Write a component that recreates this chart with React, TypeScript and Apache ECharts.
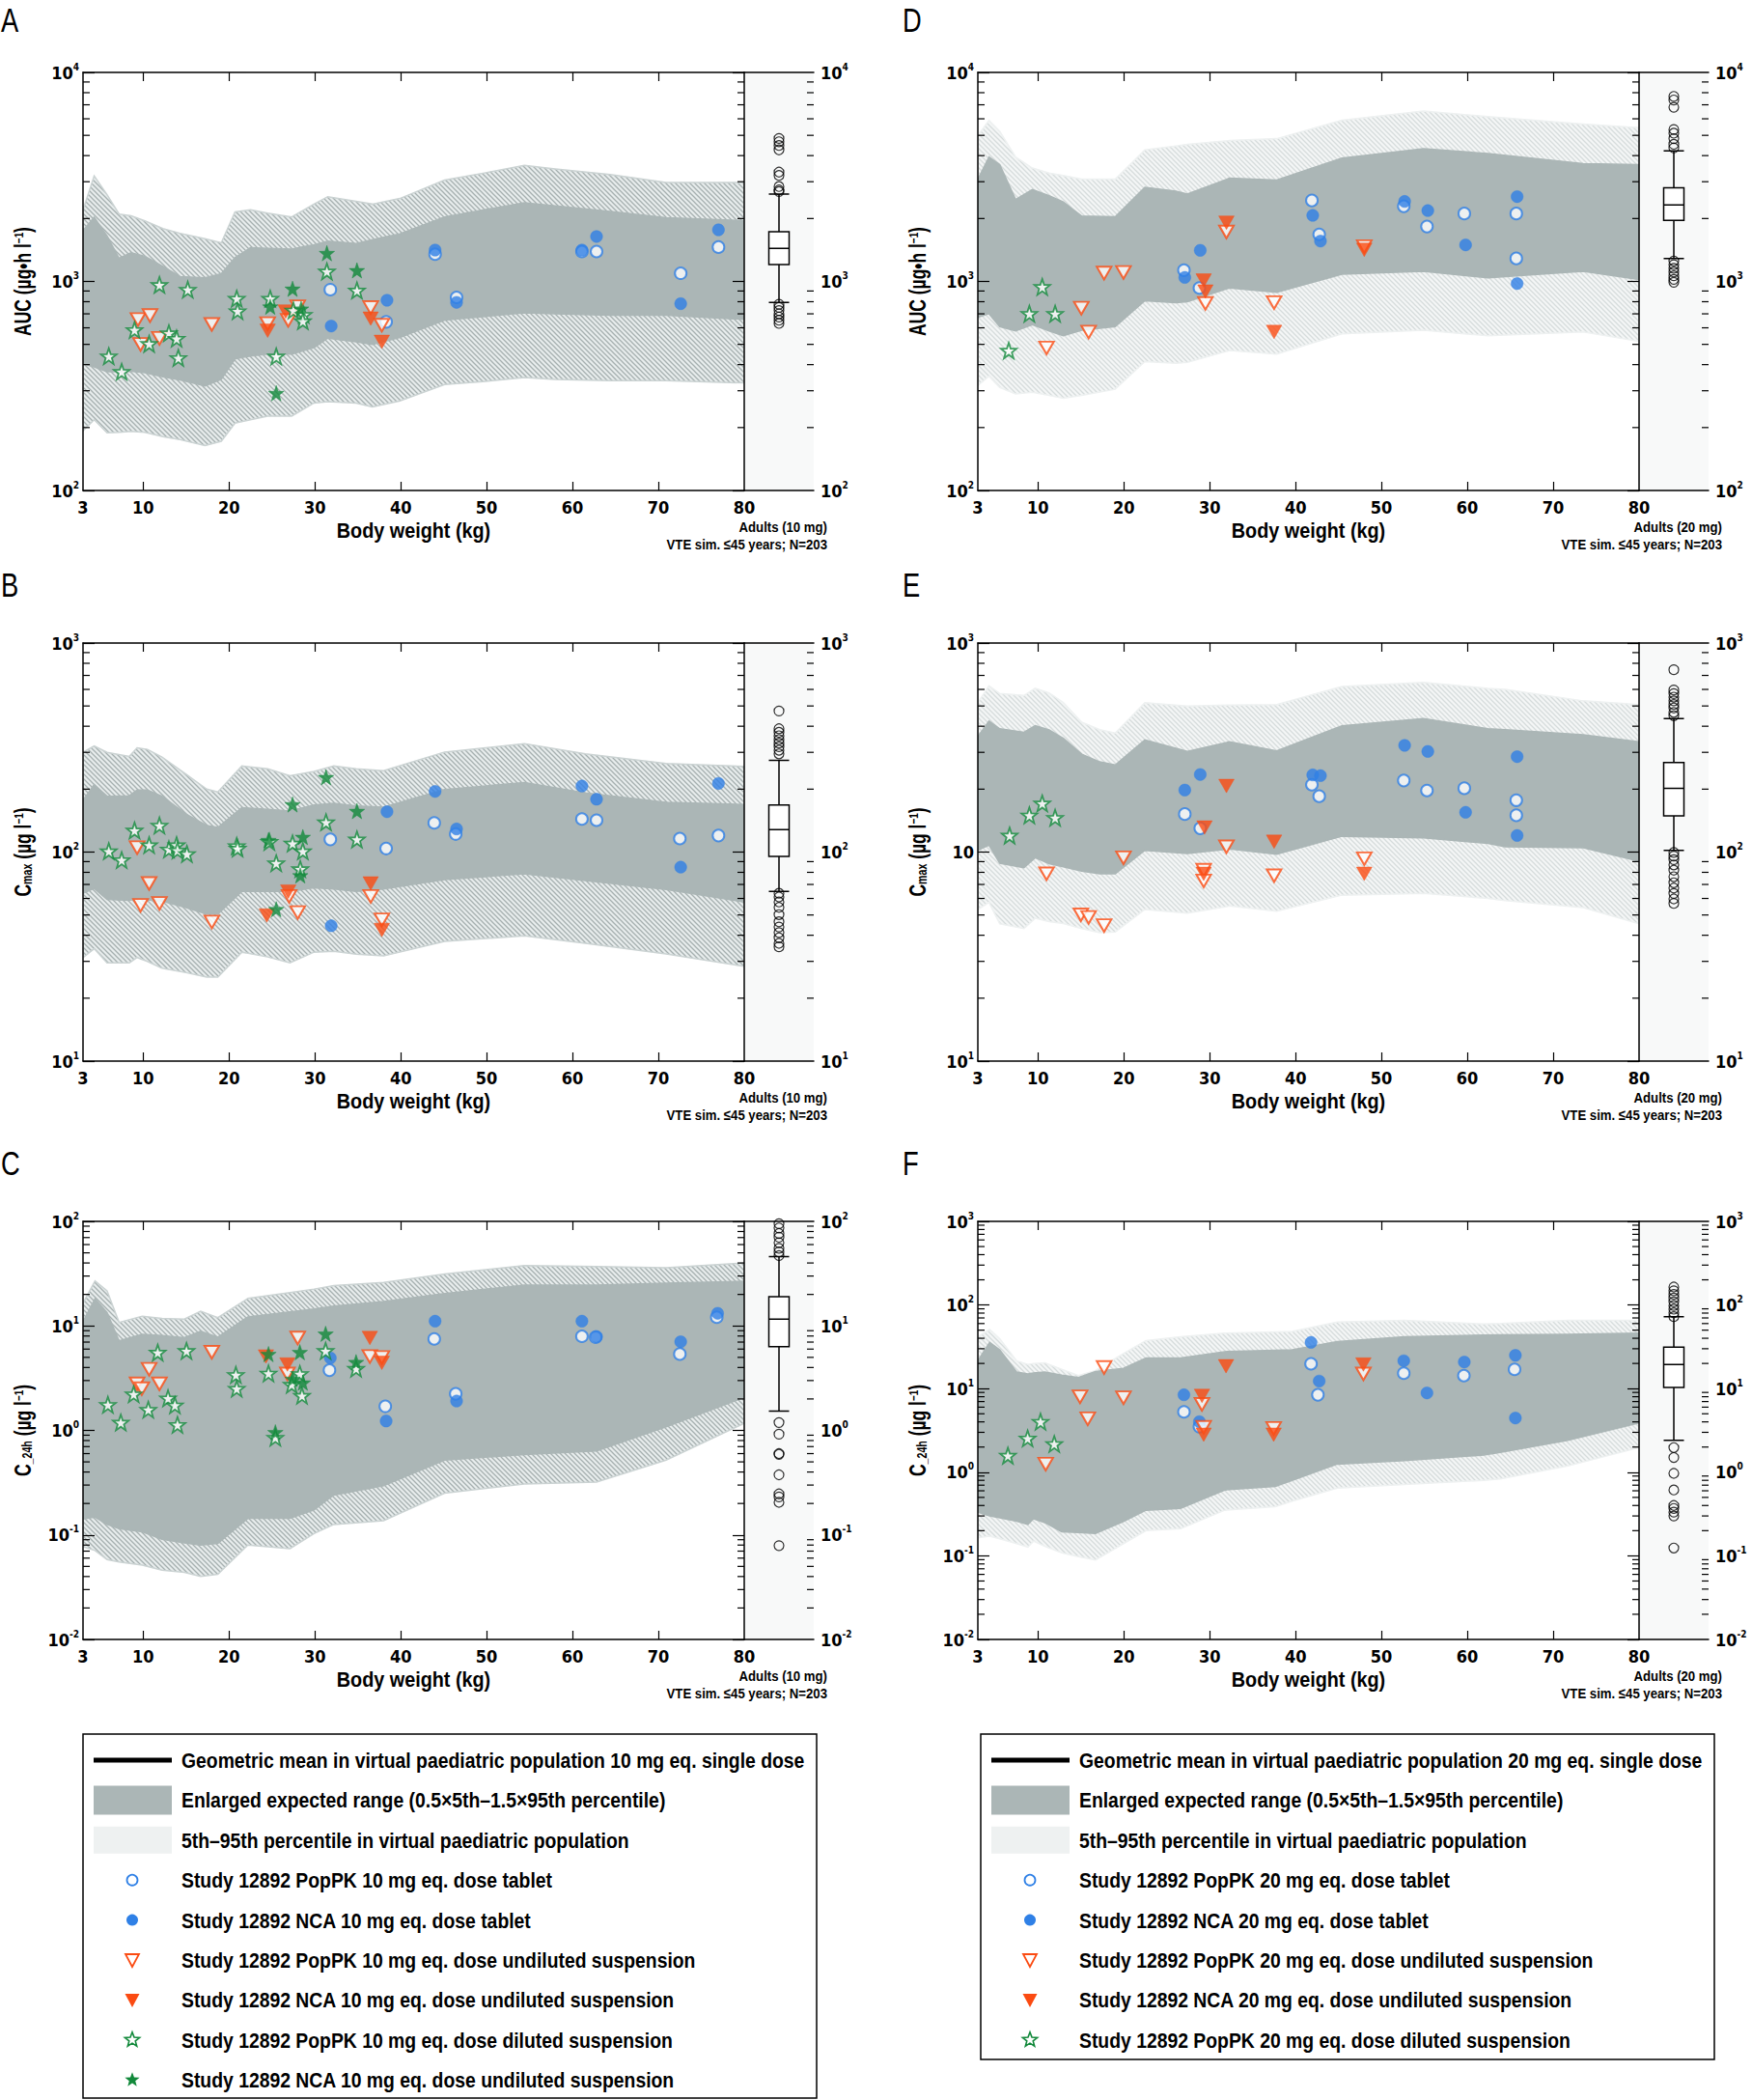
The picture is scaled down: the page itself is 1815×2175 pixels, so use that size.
import React, { useEffect, useRef } from 'react';
import * as echarts from 'echarts';

// ---------- axis tick/label lists ----------
const X_LABELS = [3, 10, 20, 30, 40, 50, 60, 70, 80];
const X_TICKS = [10, 20, 30, 40, 50, 60, 70];
const BOX_CATEGORY = ['Adults'];

// ---------- bands: [body weight, outer low, inner low, inner high, outer high] ----------
const BAND_A = [
  [3, 193, 404, 1750, 2200], [4.3, 218, 390, 2030, 3200], [5.8, 189, 370, 1650, 2600], [7.2, 190, 370, 1290, 2100],
  [8.6, 192, 372, 1370, 2060], [10.2, 190, 366, 1320, 1950], [12.3, 181, 350, 1180, 1790], [14.3, 175, 338, 1055, 1700],
  [17.2, 164, 316, 1040, 1600], [19.1, 172, 340, 1090, 1531], [20.7, 210, 426, 1300, 2150], [22.5, 218, 440, 1449, 2200],
  [24.5, 227, 449, 1440, 2120], [27.3, 227, 449, 1429, 2036], [29.9, 262, 482, 1500, 2345], [31.5, 266, 536, 1560, 2545],
  [34.8, 262, 515, 1520, 2416], [36.7, 251, 500, 1585, 2345], [39.9, 268, 540, 1690, 2494], [45.1, 321, 653, 2036, 3055],
  [49.9, 333, 680, 2208, 3313], [54.4, 347, 708, 2377, 3597], [58.0, 340, 700, 2300, 3452], [64.4, 335, 690, 2164, 3245],
  [70.9, 335, 690, 2018, 2971], [80, 327, 658, 1955, 2971],
];
const BAND_B = [
  [3, 31.3, 63.5, 177, 300], [4.3, 34.5, 67, 210, 322], [5.8, 29.5, 59.3, 185, 300], [8.4, 29.5, 58.8, 186, 287],
  [9.3, 31.3, 60, 198, 315], [10.5, 30, 59, 198, 310], [12.2, 27.8, 58.2, 185, 285], [15.0, 26.5, 54.2, 152, 236],
  [17.4, 25.2, 50.5, 134, 200], [18.7, 25.2, 50.5, 131, 194], [21.5, 33.2, 64.9, 163, 258], [24.5, 31.5, 64.9, 160, 250],
  [27.1, 29.5, 64.9, 157, 232], [29.9, 33.2, 67.4, 168, 243], [32.2, 33.5, 66.5, 171, 258], [34.8, 32.5, 64.9, 166, 250],
  [38.0, 31.9, 66.5, 164, 245], [45.1, 37.4, 73.8, 199, 301], [54.4, 39.7, 78.8, 215, 330], [61.5, 36.6, 73, 192, 295],
  [70.9, 32.6, 66.2, 173, 265], [80, 28.4, 57.7, 169, 257],
];
const BAND_C = [
  [3, 0.077, 0.142, 11.0, 16.5], [4.4, 0.071, 0.148, 18.2, 27.0], [5.8, 0.058, 0.126, 13.4, 21.7], [7.2, 0.055, 0.115, 7.2, 10.8],
  [9.9, 0.0515, 0.107, 8.3, 12.4], [12.2, 0.046, 0.091, 8.1, 11.8], [14.8, 0.0438, 0.084, 7.7, 11.6], [16.7, 0.040, 0.080, 8.9, 13.8],
  [18.7, 0.042, 0.083, 7.8, 12.0], [22.2, 0.080, 0.144, 12.2, 18.3], [27.1, 0.074, 0.144, 13.6, 20.8], [29.9, 0.103, 0.174, 14.5, 22.5],
  [32.2, 0.126, 0.241, 15.5, 24.3], [38.0, 0.137, 0.295, 17.1, 26.0], [45.1, 0.251, 0.52, 20.4, 31.3], [54.4, 0.307, 0.588, 24.6, 37.8],
  [62.8, 0.32, 0.637, 24.6, 36.9], [70.9, 0.52, 1.08, 25.6, 36.0], [80, 1.17, 2.07, 26.7, 40.0],
];
const BAND_D = [
  [3, 318, 673, 3085, 5000], [4.3, 352, 701, 3935, 5900], [5.55, 311, 608, 3625, 5225], [7.4, 290, 580, 2466, 3935],
  [9.35, 295, 621, 2752, 3487], [11.3, 285, 580, 2572, 3300], [12.95, 276, 550, 2400, 3214], [15.1, 285, 584, 2056, 3085],
  [19.0, 305, 608, 2037, 3085], [22.45, 414, 808, 2817, 4266], [26.05, 406, 792, 2700, 4450], [27.4, 410, 800, 2622, 4530],
  [32.3, 467, 931, 3117, 4720], [37.8, 449, 887, 3055, 4820], [45.4, 561, 1083, 3896, 5900], [54.9, 584, 1117, 4314, 6530],
  [62.4, 550, 1040, 4095, 6150], [73.5, 573, 1117, 3656, 5665], [80, 517, 1022, 3625, 5440],
];
const BAND_E = [
  [3, 53.1, 102, 357, 519], [4.3, 57.4, 108, 423, 624], [5.55, 45.4, 88.5, 389, 573], [8.37, 43.1, 84.1, 374, 561],
  [9.68, 48.2, 94, 402, 607], [11.3, 46.5, 88, 384, 577], [12.95, 45.5, 85.1, 350, 520], [15.1, 43, 81, 294, 418],
  [17.2, 41.1, 78.7, 270, 385], [19.0, 41.5, 78.7, 261, 371], [22.45, 53.1, 102, 344, 519], [27.4, 51, 98.5, 303, 499],
  [32.3, 55.2, 103.5, 337, 505], [37.8, 52.1, 97.7, 305, 508], [45.4, 62.2, 119, 402, 619], [54.9, 63.4, 117, 435, 649],
  [62.4, 60, 110, 389, 607], [64.4, 58.6, 106, 385, 600], [73.5, 54.2, 105, 364, 529], [80, 45.4, 90.3, 337, 508],
];
const BAND_F = [
  [3, 0.164, 0.333, 21.5, 41.6], [4.38, 0.172, 0.30, 35.7, 50.9], [5.55, 0.16, 0.285, 29.1, 39.5], [7.52, 0.14, 0.26, 15.8, 21.5],
  [8.83, 0.127, 0.238, 15.0, 19.4], [9.48, 0.15, 0.277, 15.4, 20.0], [10.8, 0.13, 0.25, 15.8, 20.4], [12.76, 0.109, 0.194, 14.5, 17],
  [14.72, 0.098, 0.19, 13.6, 14.3], [16.7, 0.089, 0.185, 16.0, 16.5], [19.96, 0.14, 0.258, 17.5, 26.3], [22.58, 0.20, 0.351, 23.3, 37.6],
  [26.6, 0.211, 0.369, 23.3, 41.6], [31.75, 0.351, 0.613, 27.7, 46], [37.64, 0.388, 0.678, 28.8, 47.5], [39.6, 0.45, 0.8, 29.1, 48.4],
  [44.85, 0.644, 1.25, 36.4, 62.4], [52.7, 0.713, 1.38, 41.6, 65.6], [61.9, 0.80, 1.6, 43.7, 59.3], [63.84, 0.832, 1.73, 43.9, 60],
  [71.7, 1.19, 2.41, 44.6, 65.6], [80, 1.97, 3.89, 46, 65.6],
];

// ---------- observed points [body weight, value] ----------
const A_POPPK_TAB = [[31.8, 914], [38.3, 641], [44.0, 1350], [46.5, 839], [61.1, 1390], [62.8, 1390], [72.6, 1094], [77.0, 1460]];
const A_NCA_TAB = [[31.9, 612], [38.4, 813], [44.0, 1413], [46.5, 794], [61.1, 1413], [62.8, 1641], [72.6, 783], [77.0, 1766]];
const A_POPPK_UND = [[9.4, 658], [10.8, 687], [9.7, 500], [11.9, 535], [18.0, 623], [24.5, 629], [26.9, 652], [28.0, 757], [36.5, 750], [37.8, 618]];
const A_NCA_UND = [[24.5, 581], [26.6, 718], [36.5, 664], [37.8, 514]];
const A_POPPK_DIL = [[11.9, 963], [15.2, 914], [9.0, 586], [6.0, 439], [7.5, 370], [10.7, 503], [13.0, 566], [13.9, 533], [14.1, 431],
  [20.9, 828], [21.0, 721], [24.8, 828], [25.5, 438], [27.5, 727], [28.7, 693], [28.6, 646], [31.4, 1117], [34.9, 906]];
const A_NCA_DIL = [[24.8, 757], [25.5, 292], [27.4, 922], [28.4, 740], [31.4, 1365], [34.9, 1130]];

const B_POPPK_TAB = [[31.8, 115], [38.3, 104], [43.9, 138], [46.4, 122], [61.1, 144], [62.8, 142], [72.5, 116], [77.0, 120]];
const B_NCA_TAB = [[31.9, 44.4], [38.4, 156], [44.0, 195], [46.5, 129], [61.1, 207], [62.8, 179], [72.6, 84.7], [77.0, 213]];
const B_POPPK_UND = [[9.3, 105], [10.7, 70.8], [9.7, 55.6], [11.9, 56.8], [18.0, 46.3], [27.0, 61.4], [28.0, 51.4], [36.5, 61.4], [37.8, 47.4]];
const B_NCA_UND = [[24.4, 49.7], [26.9, 64.7], [36.5, 70.8], [37.8, 42.4]];
const B_POPPK_DIL = [[6.0, 101], [7.5, 91.6], [9.0, 127], [10.7, 108], [11.9, 134], [13.0, 103], [13.9, 108], [14.0, 102], [15.1, 98],
  [20.9, 107], [21.0, 104], [24.7, 112], [25.5, 88.5], [27.4, 110], [28.6, 101], [28.3, 83], [31.3, 139], [34.9, 115]];
const B_NCA_DIL = [[24.6, 114], [28.6, 118], [28.3, 77.3], [27.4, 169], [31.3, 228], [34.9, 157], [25.5, 53.3]];

const C_POPPK_TAB = [[31.7, 3.77], [38.2, 1.70], [43.9, 7.5], [46.4, 2.24], [61.1, 7.95], [62.7, 7.8], [72.5, 5.38], [76.8, 12.1]];
const C_NCA_TAB = [[31.8, 4.93], [38.3, 1.23], [44.0, 11.1], [46.5, 1.91], [61.1, 11.1], [62.8, 7.9], [72.6, 7.05], [76.9, 13.2]];
const C_POPPK_UND = [[9.3, 2.79], [9.85, 2.51], [10.7, 3.85], [11.9, 2.79], [18.0, 5.6], [28.0, 7.66], [26.8, 3.47], [36.4, 5.1], [37.8, 5.0]];
const C_NCA_UND = [[24.3, 5.1], [26.8, 4.27], [36.4, 7.66], [37.8, 4.43]];
const C_POPPK_DIL = [[5.9, 1.76], [7.4, 1.19], [8.9, 2.22], [10.6, 1.58], [11.7, 5.56], [15.05, 5.77], [12.9, 2.03], [13.7, 1.74], [14.0, 1.13],
  [20.8, 3.40], [20.9, 2.51], [24.6, 3.51], [25.4, 0.853], [27.3, 2.74], [28.25, 3.47], [28.5, 2.15], [31.25, 5.77], [34.8, 3.90]];
const C_NCA_DIL = [[24.6, 5.37], [25.4, 0.96], [28.25, 5.6], [27.4, 3.11], [28.6, 2.86], [31.25, 8.4], [34.8, 4.50]];

const D_POPPK_TAB = [[27.0, 1132], [28.8, 931], [41.9, 2440], [42.75, 1679], [52.6, 2290], [55.3, 1832], [59.65, 2113], [65.7, 2113], [65.7, 1289]];
const D_NCA_TAB = [[27.1, 1045], [28.9, 1409], [42.0, 2071], [42.9, 1560], [52.7, 2415], [55.4, 2183], [59.8, 1496], [65.8, 2546], [65.8, 977]];
const D_POPPK_UND = [[11.0, 481], [15.05, 745], [15.9, 573], [17.7, 1097], [19.96, 1105], [29.5, 785], [31.95, 1725], [37.5, 792], [48.0, 1469]];
const D_NCA_UND = [[29.3, 1010], [29.5, 895], [31.95, 1910], [37.5, 573], [48.0, 1416]];
const D_POPPK_DIL = [[6.6, 467], [10.5, 942], [9.0, 701], [12.0, 701]];

const E_POPPK_TAB = [[27.1, 152], [28.9, 130], [41.9, 210], [42.75, 185], [52.6, 220], [55.3, 197], [59.65, 202], [65.7, 177], [65.7, 150]];
const E_NCA_TAB = [[27.1, 198], [28.9, 235], [42.0, 234], [42.9, 232], [52.7, 324], [55.4, 303], [59.8, 155], [65.8, 286], [65.8, 120]];
const E_POPPK_UND = [[11.0, 78.7], [15.0, 50.1], [15.9, 48.7], [17.7, 44.5], [19.96, 94], [29.3, 81.9], [29.3, 72.8], [31.95, 106], [37.5, 77.1], [48.0, 93]];
const E_NCA_UND = [[29.4, 131], [31.95, 207], [37.5, 112], [29.3, 78.7], [48.0, 78.7]];
const E_POPPK_DIL = [[6.7, 120], [9.0, 150], [10.5, 171], [12.0, 146]];

const F_POPPK_TAB = [[27.0, 5.28], [28.8, 3.51], [41.8, 19.8], [42.6, 8.43], [52.6, 15.3], [59.6, 14.3], [65.5, 17.0]];
const F_NCA_TAB = [[27.0, 8.43], [28.8, 4.02], [41.8, 35.7], [42.75, 12.3], [52.6, 21.5], [55.3, 8.87], [59.65, 20.8], [65.6, 25], [65.6, 4.45]];
const F_POPPK_UND = [[10.9, 1.25], [14.9, 8.0], [15.8, 4.36], [17.7, 17.9], [19.96, 7.78], [29.1, 6.48], [29.3, 3.45], [37.45, 3.34], [47.9, 15.0]];
const F_NCA_UND = [[29.1, 8.18], [29.3, 2.81], [31.9, 18.5], [37.45, 2.81], [47.9, 19.4]];
const F_POPPK_DIL = [[6.5, 1.58], [8.8, 2.54], [10.3, 4.02], [11.9, 2.18]];

// ---------- adult simulation box plots: [low whisker, Q1, median, Q3, high whisker] + outliers ----------
const BOX_A = [793, 1205, 1440, 1730, 2618];
const OUT_A = [4830, 4660, 4470, 4260, 3335, 3215, 2845, 2740, 2690, 778, 751, 726, 700, 676, 652, 630];
const BOX_B = [64.9, 95.3, 128, 168, 275];
const OUT_B = [473, 389, 374, 360, 345, 332, 319, 307, 295, 63.5, 61, 57.7, 54.4, 50.2, 46.4, 43.8, 41.2, 38.9, 36.6, 35.2];
const BOX_C = [1.53, 6.34, 11.6, 19, 45.9];
const OUT_C = [95, 86.5, 76.6, 70.5, 62.5, 55.3, 51, 47, 1.19, 0.92, 0.60, 0.59, 0.376, 0.247, 0.231, 0.205, 0.079];
const BOX_D = [1289, 1958, 2325, 2806, 4216];
const OUT_D = [7680, 7380, 6810, 5330, 5120, 4820, 4530, 4350, 1253, 1203, 1156, 1110, 1064, 1023, 991];
const BOX_E = [102, 149, 202, 268, 435];
const OUT_E = [745, 596, 573, 551, 529, 508, 489, 466, 449, 99.6, 95.7, 92, 86.8, 81.9, 76.2, 71.3, 67.3, 63.4, 59.7, 56.8];
const BOX_F = [2.41, 10.3, 19.4, 31.3, 72.6];
const OUT_F = [164, 148, 134, 121, 109, 98.6, 89.1, 80.5, 72.6, 1.97, 1.5, 0.968, 0.613, 0.4, 0.369, 0.333, 0.30, 0.124];

// ---------- texts ----------
const X_NAME = 'Body weight (kg)';
const NAME_AUC = 'AUC (µg•h l{s|−1})';
const NAME_CMAX = 'C{sub|max} (µg l{s|−1})';
const NAME_C24 = 'C{sub|_24h} (µg l{s|−1})';
const BOX_NOTE_2 = 'VTE sim. ≤45 years; N=203';
const LEGEND_LEFT = [
  'Geometric mean in virtual paediatric population 10 mg eq. single dose',
  'Enlarged expected range (0.5×5th–1.5×95th percentile)',
  '5th–95th percentile in virtual paediatric population',
  'Study 12892 PopPK 10 mg eq. dose tablet',
  'Study 12892 NCA 10 mg eq. dose tablet',
  'Study 12892 PopPK 10 mg eq. dose undiluted suspension',
  'Study 12892 NCA 10 mg eq. dose undiluted suspension',
  'Study 12892 PopPK 10 mg eq. dose diluted suspension',
  'Study 12892 NCA 10 mg eq. dose undiluted suspension',
];
const LEGEND_RIGHT = [
  'Geometric mean in virtual paediatric population 20 mg eq. single dose',
  'Enlarged expected range (0.5×5th–1.5×95th percentile)',
  '5th–95th percentile in virtual paediatric population',
  'Study 12892 PopPK 20 mg eq. dose tablet',
  'Study 12892 NCA 20 mg eq. dose tablet',
  'Study 12892 PopPK 20 mg eq. dose undiluted suspension',
  'Study 12892 NCA 20 mg eq. dose undiluted suspension',
  'Study 12892 PopPK 20 mg eq. dose diluted suspension',
];
const LEGEND_KINDS = ['line', 'rectDark', 'rectLight', 'circleHollow', 'circleFilled', 'triHollow', 'triFilled', 'starHollow', 'starFilled'];

// ---------- styles / layout ----------
const BLUE = '#2f80e6';
const ORANGE = '#fb4b12';
const GREEN = '#12893b';
const INNER = '#abb6b6';
const AXIS_FONT = "'DejaVu Sans Condensed','Liberation Sans',sans-serif";
const TEXT_FONT = "'Liberation Sans','Arimo',sans-serif";
const COL_LEFT = [86, 1013];
const ROW_TOP = [75, 666, 1265];
const MAIN_W = 685;
const BOX_W = 72;
const PANEL_H = 433;
const STAR_PATH = 'path://M50 0 L61.8 33.8 L97.6 34.5 L69 56.2 L79.4 90.5 L50 70 L20.6 90.5 L31 56.2 L2.4 34.5 L38.2 33.8 Z';

const PANELS = [
  { letter: 'A', col: 0, row: 0, lo: 2, hi: 4, band: BAND_A, box: BOX_A, out: OUT_A, name: NAME_AUC, dose: 'Adults (10 mg)', light: false,
    pts: [A_POPPK_TAB, A_NCA_TAB, A_POPPK_UND, A_NCA_UND, A_POPPK_DIL, A_NCA_DIL], leftOverride: {} as Record<number, string> },
  { letter: 'B', col: 0, row: 1, lo: 1, hi: 3, band: BAND_B, box: BOX_B, out: OUT_B, name: NAME_CMAX, dose: 'Adults (10 mg)', light: false,
    pts: [B_POPPK_TAB, B_NCA_TAB, B_POPPK_UND, B_NCA_UND, B_POPPK_DIL, B_NCA_DIL], leftOverride: {} },
  { letter: 'C', col: 0, row: 2, lo: -2, hi: 2, band: BAND_C, box: BOX_C, out: OUT_C, name: NAME_C24, dose: 'Adults (10 mg)', light: false,
    pts: [C_POPPK_TAB, C_NCA_TAB, C_POPPK_UND, C_NCA_UND, C_POPPK_DIL, C_NCA_DIL], leftOverride: {} },
  { letter: 'D', col: 1, row: 0, lo: 2, hi: 4, band: BAND_D, box: BOX_D, out: OUT_D, name: NAME_AUC, dose: 'Adults (20 mg)', light: true,
    pts: [D_POPPK_TAB, D_NCA_TAB, D_POPPK_UND, D_NCA_UND, D_POPPK_DIL, []], leftOverride: {} },
  { letter: 'E', col: 1, row: 1, lo: 1, hi: 3, band: BAND_E, box: BOX_E, out: OUT_E, name: NAME_CMAX, dose: 'Adults (20 mg)', light: true,
    pts: [E_POPPK_TAB, E_NCA_TAB, E_POPPK_UND, E_NCA_UND, E_POPPK_DIL, []], leftOverride: { 2: '{b|10}' } as Record<number, string> },
  { letter: 'F', col: 1, row: 2, lo: -2, hi: 3, band: BAND_F, box: BOX_F, out: OUT_F, name: NAME_C24, dose: 'Adults (20 mg)', light: true,
    pts: [F_POPPK_TAB, F_NCA_TAB, F_POPPK_UND, F_NCA_UND, F_POPPK_DIL, []], leftOverride: {} },
];

const POINT_STYLES = [
  { symbol: 'circle', symbolSize: 12, symbolRotate: 0, itemStyle: { color: '#fff', borderColor: BLUE, borderWidth: 2 } },
  { symbol: 'circle', symbolSize: 12.5, symbolRotate: 0, itemStyle: { color: BLUE, borderColor: BLUE, borderWidth: 0.5 } },
  { symbol: 'triangle', symbolSize: [15, 13], symbolRotate: 180, itemStyle: { color: '#fff', borderColor: ORANGE, borderWidth: 2 } },
  { symbol: 'triangle', symbolSize: [16, 14], symbolRotate: 180, itemStyle: { color: ORANGE, borderColor: ORANGE, borderWidth: 0.5 } },
  { symbol: STAR_PATH, symbolSize: 16, symbolRotate: 0, itemStyle: { color: '#fff', borderColor: GREEN, borderWidth: 1.8 } },
  { symbol: STAR_PATH, symbolSize: 16, symbolRotate: 0, itemStyle: { color: GREEN, borderColor: GREEN, borderWidth: 0.5 } },
];

function hatch(bg: string, line: string) {
  const s = 5;
  const c = document.createElement('canvas');
  c.width = s; c.height = s;
  const ctx = c.getContext('2d')!;
  ctx.fillStyle = bg; ctx.fillRect(0, 0, s, s);
  ctx.strokeStyle = line; ctx.lineWidth = 1.3;
  ctx.beginPath();
  ctx.moveTo(0, 0); ctx.lineTo(s, s);
  ctx.moveTo(-1, s - 1); ctx.lineTo(1, s + 1);
  ctx.moveTo(s - 1, -1); ctx.lineTo(s + 1, 1);
  ctx.stroke();
  return { image: c, repeat: 'repeat' };
}

function minorVals(lo: number, hi: number) {
  const r: number[] = [];
  for (let e = lo; e < hi; e++) for (let m = 2; m <= 9; m++) r.push(Number(m + 'e' + e));
  return r;
}

const blackLine = { color: '#000', width: 1.5 };
const tickLine = { color: '#000', width: 1.2 };
const labelRich = {
  b: { fontSize: 18, fontWeight: 'bold', fontFamily: AXIS_FONT, color: '#000', lineHeight: 22 },
  s: { fontSize: 10, fontWeight: 'bold', fontFamily: AXIS_FONT, color: '#000', verticalAlign: 'top', lineHeight: 11 },
};
function expLabel(override: Record<number, string>) {
  return (v: number) => {
    const e = Math.round(Math.log10(v));
    if (override[e]) return override[e];
    return '{b|10}{s|' + e + '}';
  };
}
const nameRich = {
  s: { fontSize: 13, fontWeight: 'bold', fontFamily: TEXT_FONT, fill: '#000', verticalAlign: 'top', lineHeight: 13 },
  sub: { fontSize: 14, fontWeight: 'bold', fontFamily: TEXT_FONT, fill: '#000', verticalAlign: 'bottom', lineHeight: 13 },
};

function buildOption() {
  const grid: any[] = [];
  const xAxis: any[] = [];
  const yAxis: any[] = [];
  const series: any[] = [];
  const graphic: any[] = [];

  PANELS.forEach((p) => {
    const left = COL_LEFT[p.col];
    const top = ROW_TOP[p.row];
    const min = Number('1e' + p.lo);
    const max = Number('1e' + p.hi);
    const mg = grid.length;
    grid.push({ left, top, width: MAIN_W, height: PANEL_H, show: false });
    grid.push({ left: left + MAIN_W, top, width: BOX_W, height: PANEL_H, show: true, backgroundColor: '#f8f9f9', borderWidth: 0 });
    const bg = mg + 1;

    const xm = xAxis.length;
    xAxis.push({
      gridIndex: mg, type: 'value', min: 3, max: 80, position: 'bottom', z: 10,
      axisLine: { lineStyle: blackLine },
      axisTick: { inside: true, length: 9, customValues: X_TICKS, lineStyle: tickLine },
      axisLabel: { customValues: X_LABELS, fontSize: 18, fontWeight: 'bold', fontFamily: AXIS_FONT, color: '#000', margin: 8 },
      splitLine: { show: false },
    });
    xAxis.push({
      gridIndex: mg, type: 'value', min: 3, max: 80, position: 'top', z: 10,
      axisLine: { lineStyle: blackLine },
      axisTick: { inside: true, length: 9, customValues: X_TICKS, lineStyle: tickLine },
      axisLabel: { show: false }, splitLine: { show: false },
    });
    const xb = xAxis.length;
    ['bottom', 'top'].forEach((pos) => {
      xAxis.push({
        gridIndex: bg, type: 'category', data: BOX_CATEGORY, position: pos, z: 10,
        axisLine: { lineStyle: blackLine },
        axisTick: { inside: true, length: 8, alignWithLabel: true, lineStyle: tickLine },
        axisLabel: { show: false }, splitLine: { show: false },
      });
    });

    const ym = yAxis.length;
    yAxis.push({
      gridIndex: mg, type: 'log', logBase: 10, min, max, position: 'left', z: 10,
      axisLine: { lineStyle: blackLine },
      axisTick: { inside: true, length: 12, lineStyle: tickLine },
      axisLabel: { formatter: expLabel(p.leftOverride), rich: labelRich, margin: 4 },
      splitLine: { show: false },
    });
    yAxis.push({
      gridIndex: mg, type: 'log', logBase: 10, min, max, position: 'right', z: 10,
      axisLine: { lineStyle: blackLine },
      axisTick: { inside: true, length: 12, lineStyle: tickLine },
      axisLabel: { show: false }, splitLine: { show: false },
    });
    const yb = yAxis.length;
    yAxis.push({
      gridIndex: bg, type: 'log', logBase: 10, min, max, position: 'right', z: 10,
      axisLine: { lineStyle: blackLine },
      axisTick: { inside: true, length: 10, lineStyle: tickLine },
      axisLabel: { formatter: expLabel({}), rich: labelRich, margin: 7 },
      splitLine: { show: false },
    });

    const outerFill = p.light ? hatch('#f4f6f6', '#d6dcdc') : hatch('#e8eded', '#a6b0b0');
    const outerStroke = p.light ? '#eef1f1' : '#cbd3d3';
    const band = p.band;
    const bandSeries = (loIdx: number, hiIdx: number, fill: any, stroke: string, z: number) => ({
      type: 'custom', xAxisIndex: xm, yAxisIndex: ym, clip: true, silent: true, z,
      data: band.map((r) => [r[0], r[loIdx], r[hiIdx]]),
      renderItem: (params: any, api: any) => {
        if (params.dataIndex !== 0) return null;
        const upper = band.map((r) => api.coord([r[0], r[hiIdx]]));
        const lower = band.map((r) => api.coord([r[0], r[loIdx]])).reverse();
        return { type: 'polygon', shape: { points: upper.concat(lower) }, style: { fill, stroke, lineWidth: 1.5 } };
      },
    });
    series.push(bandSeries(1, 4, outerFill, outerStroke, 1));
    series.push(bandSeries(2, 3, INNER, INNER, 2));

    p.pts.forEach((data, k) => {
      const st = POINT_STYLES[k];
      series.push({
        type: 'scatter', xAxisIndex: xm, yAxisIndex: ym, data, z: 3 + k * 0.01,
        symbol: st.symbol, symbolSize: st.symbolSize, symbolRotate: st.symbolRotate, itemStyle: st.itemStyle,
      });
    });

    // minor ticks of the log axes (main plot both sides, box panel right side)
    const minors = minorVals(p.lo, p.hi);
    series.push({
      type: 'custom', xAxisIndex: xm, yAxisIndex: ym, clip: false, silent: true, z: 11,
      data: minors.map((v) => [3, v]),
      renderItem: (params: any, api: any) => {
        const cs = params.coordSys;
        const y = api.coord([3, api.value(1)])[1];
        return {
          type: 'group', children: [
            { type: 'line', shape: { x1: cs.x, y1: y, x2: cs.x + 7, y2: y }, style: { stroke: '#000', lineWidth: 1.2 } },
            { type: 'line', shape: { x1: cs.x + cs.width - 7, y1: y, x2: cs.x + cs.width, y2: y }, style: { stroke: '#000', lineWidth: 1.2 } },
          ],
        };
      },
    });
    series.push({
      type: 'custom', xAxisIndex: xb, yAxisIndex: yb, clip: false, silent: true, z: 11,
      data: minors.map((v) => [0, v]),
      renderItem: (params: any, api: any) => {
        const cs = params.coordSys;
        const y = api.coord([0, api.value(1)])[1];
        return { type: 'line', shape: { x1: cs.x + cs.width - 7, y1: y, x2: cs.x + cs.width, y2: y }, style: { stroke: '#000', lineWidth: 1.2 } };
      },
    });

    series.push({
      type: 'boxplot', xAxisIndex: xb, yAxisIndex: yb, data: [p.box], boxWidth: [21, 21], z: 3,
      itemStyle: { color: '#fff', borderColor: '#000', borderWidth: 1.5 },
    });
    series.push({
      type: 'scatter', xAxisIndex: xb, yAxisIndex: yb, data: p.out.map((v) => [0, v]), z: 4,
      symbol: 'circle', symbolSize: 10, itemStyle: { color: 'rgba(0,0,0,0)', borderColor: '#000', borderWidth: 1.2 },
    });

    // axis titles, panel letter and adult box notes
    graphic.push({
      type: 'text', x: left + MAIN_W / 2, y: top + PANEL_H + 41, scaleX: 0.9, z: 20,
      style: { text: X_NAME, align: 'center', verticalAlign: 'middle', fontSize: 22, fontWeight: 'bold', fontFamily: TEXT_FONT, fill: '#000' },
    });
    graphic.push({
      type: 'text', x: left - 62, y: top + PANEL_H / 2, rotation: Math.PI / 2, scaleX: 0.76, z: 20,
      style: { text: p.name, rich: nameRich, align: 'center', verticalAlign: 'middle', fontSize: 23, fontWeight: 'bold', fontFamily: TEXT_FONT, fill: '#000' },
    });
    const letterX = p.col === 0 ? 1 : 935;
    const letterY = p.row === 0 ? 21 : top - 60;
    graphic.push({ type: 'text', x: letterX, y: letterY, scaleX: 0.78, style: { text: p.letter, fontSize: 35, fontFamily: TEXT_FONT, fill: '#000', verticalAlign: 'middle' } });
    const noteX = left + MAIN_W + BOX_W + 14;
    graphic.push({ type: 'text', x: noteX, y: top + PANEL_H + 38, scaleX: 0.85, style: { text: p.dose, align: 'right', verticalAlign: 'middle', fontSize: 15.5, fontWeight: 'bold', fontFamily: TEXT_FONT, fill: '#000' } });
    graphic.push({ type: 'text', x: noteX, y: top + PANEL_H + 56, scaleX: 0.85, style: { text: BOX_NOTE_2, align: 'right', verticalAlign: 'middle', fontSize: 15.5, fontWeight: 'bold', fontFamily: TEXT_FONT, fill: '#000' } });
  });

  // legends
  const LEG_Y0 = 1823;
  const LEG_STEP = 41.4;
  const starPts = (cx: number, cy: number, R: number, r: number) => {
    const pts: number[][] = [];
    for (let k = 0; k < 10; k++) {
      const a = -Math.PI / 2 + (k * Math.PI) / 5;
      const rad = k % 2 === 0 ? R : r;
      pts.push([cx + rad * Math.cos(a), cy + rad * Math.sin(a)]);
    }
    return pts;
  };
  const legend = (x0: number, w: number, h: number, texts: string[]) => {
    graphic.push({ type: 'rect', shape: { x: x0, y: 1796, width: w, height: h }, style: { fill: 'none', stroke: '#000', lineWidth: 1.5 } });
    texts.forEach((t, i) => {
      const cy = LEG_Y0 + i * LEG_STEP;
      const mx = x0 + 51;
      const lx0 = x0 + 11;
      const lx1 = x0 + 92;
      const kind = LEGEND_KINDS[i];
      if (kind === 'line') graphic.push({ type: 'line', shape: { x1: lx0, y1: cy, x2: lx1, y2: cy }, style: { stroke: '#000', lineWidth: 5 } });
      if (kind === 'rectDark') graphic.push({ type: 'rect', shape: { x: lx0, y: cy - 15, width: lx1 - lx0, height: 30 }, style: { fill: INNER } });
      if (kind === 'rectLight') graphic.push({ type: 'rect', shape: { x: lx0, y: cy - 14, width: lx1 - lx0, height: 28 }, style: { fill: '#eef1f1' } });
      if (kind === 'circleHollow') graphic.push({ type: 'circle', shape: { cx: mx, cy, r: 5.5 }, style: { fill: '#fff', stroke: BLUE, lineWidth: 1.8 } });
      if (kind === 'circleFilled') graphic.push({ type: 'circle', shape: { cx: mx, cy, r: 6 }, style: { fill: BLUE } });
      if (kind === 'triHollow') graphic.push({ type: 'polygon', shape: { points: [[mx - 7, cy - 6], [mx + 7, cy - 6], [mx, cy + 7]] }, style: { fill: '#fff', stroke: ORANGE, lineWidth: 1.8 } });
      if (kind === 'triFilled') graphic.push({ type: 'polygon', shape: { points: [[mx - 7.5, cy - 6.5], [mx + 7.5, cy - 6.5], [mx, cy + 7.5]] }, style: { fill: ORANGE } });
      if (kind === 'starHollow') graphic.push({ type: 'polygon', shape: { points: starPts(mx, cy, 8, 3.4) }, style: { fill: '#fff', stroke: GREEN, lineWidth: 1.6 } });
      if (kind === 'starFilled') graphic.push({ type: 'polygon', shape: { points: starPts(mx, cy, 8, 3.4) }, style: { fill: GREEN } });
      graphic.push({ type: 'text', x: x0 + 102, y: cy, scaleX: 0.88, style: { text: t, fontSize: 22, fontWeight: 'bold', fontFamily: TEXT_FONT, fill: '#000', verticalAlign: 'middle' } });
    });
  };
  legend(86, 760, 377, LEGEND_LEFT);
  legend(1016, 760, 337, LEGEND_RIGHT);

  return { animation: false, backgroundColor: '#fff', grid, xAxis, yAxis, series, graphic };
}

export default function App() {
  const ref = useRef<HTMLDivElement>(null);
  useEffect(() => {
    const chart = echarts.init(ref.current!, null, { renderer: 'svg', width: 1815, height: 2175 });
    chart.setOption(buildOption() as any);
    return () => chart.dispose();
  }, []);
  return <div ref={ref} style={{ position: 'absolute', left: 0, top: 0, width: 1815, height: 2175, background: '#fff' }} />;
}
